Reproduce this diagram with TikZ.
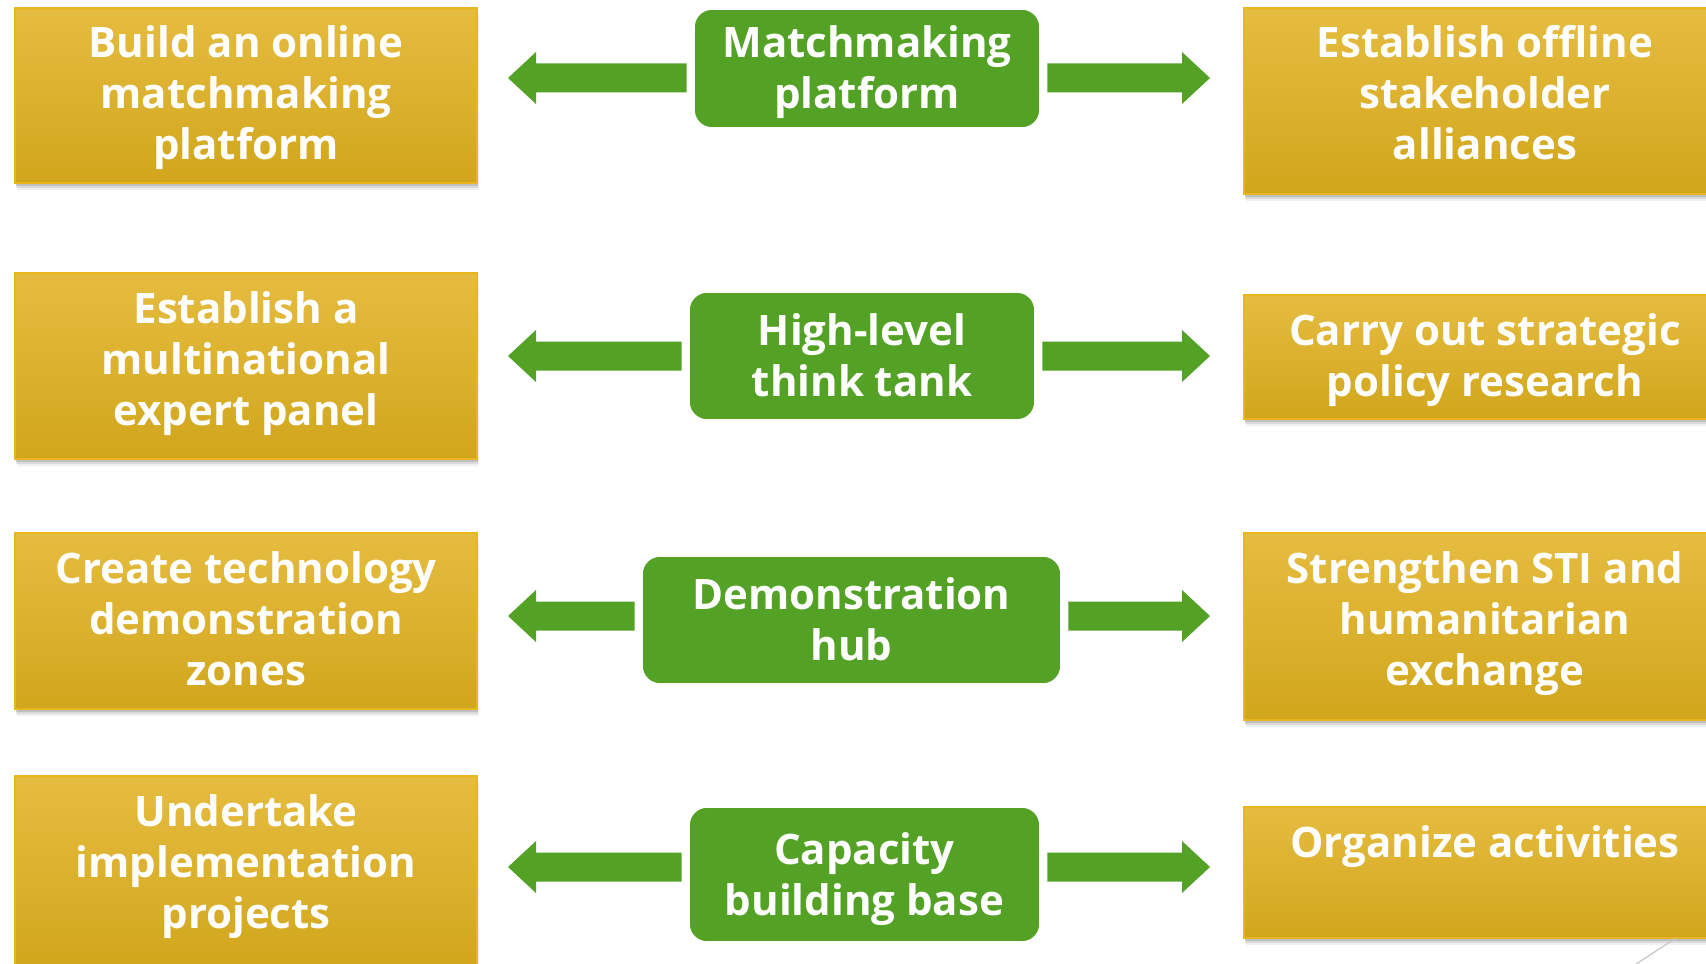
\documentclass[tikz,border=0pt]{standalone}
\usepackage{fontspec}
\setmainfont{Open Sans}
\usetikzlibrary{calc,shadows}
\definecolor{goldtop}{RGB}{230,188,64}
\definecolor{goldbot}{RGB}{209,166,28}
\definecolor{goldedge}{RGB}{233,182,32}
\definecolor{leaf}{RGB}{84,162,37}
% block arrow: #1 node it leaves, #2 node it points at, #3 direction (1 right, -1 left),
% #4 coordinate fixing its height, #5 gap left before the target
\newcommand\blockarrow[5]{%
  \fill[arrowfill] let \p1=(#1), \p2=(#2), \p3=(#4) in
    ({\x1+(#3)*3.25pt}, {\y3+7.25pt})
    -- ({\x2-(#3)*#5-(#3)*14pt}, {\y3+7.25pt})
    -- ({\x2-(#3)*#5-(#3)*14pt}, {\y3+13pt})
    -- ({\x2-(#3)*#5}, {\y3})
    -- ({\x2-(#3)*#5-(#3)*14pt}, {\y3-13pt})
    -- ({\x2-(#3)*#5-(#3)*14pt}, {\y3-7.25pt})
    -- ({\x1+(#3)*3.25pt}, {\y3-7.25pt}) -- cycle;}
\newcommand\stack[1]{\begin{tabular}[t]{@{}c@{}}#1\end{tabular}}
\begin{document}
\begin{tikzpicture}[x=0.5pt,y=-0.5pt,
  goldbox/.style={rectangle, inner sep=0pt, top color=goldtop, bottom color=goldbot,
    draw=goldedge, line width=1pt,
    general shadow={fill=black, opacity=.06, shadow xshift=.9pt, shadow yshift=-3.6pt},
    general shadow={fill=black, opacity=.09, shadow xshift=.6pt, shadow yshift=-2.6pt},
    general shadow={fill=black, opacity=.12, shadow xshift=.4pt, shadow yshift=-1.6pt}},
  greenbox/.style={rectangle, rounded corners=9pt, inner sep=0pt, fill=leaf,
    draw=white, line width=.8pt},
  boxtext/.style={text=white, inner sep=0pt, anchor=base,
    font=\fontsize{21pt}{25.5pt}\selectfont\bfseries},
  arrowfill/.style={fill=leaf}]
\useasboundingbox (0,0) rectangle (1706,963);
\clip (0,0) rectangle (1706,963);
\fill[white] (0,0) rectangle (1706,963);

% left column
\node[goldbox, minimum width=231pt, minimum height=87.5pt] (L1) at (246,95.5) {};
\node[goldbox, minimum width=231pt, minimum height=93pt]   (L2) at (246,366) {};
\node[goldbox, minimum width=231pt, minimum height=88pt]   (L3) at (246,621) {};
\node[goldbox, minimum width=231pt, minimum height=97pt]   (L4) at (246,873) {};

% right column
\node[goldbox, minimum width=241pt, minimum height=93pt]   (R1) at (1485,101) {};
\node[goldbox, minimum width=241pt, minimum height=62pt]   (R2) at (1485,357) {};
\node[goldbox, minimum width=241pt, minimum height=93.5pt] (R3) at (1485,626.5) {};
\node[goldbox, minimum width=241pt, minimum height=65.5pt] (R4) at (1485,872.5) {};

% centre column
\node[greenbox, minimum width=173pt,   minimum height=59.5pt] (G1) at (867,68.5) {};
\node[greenbox, minimum width=173pt,   minimum height=64pt]   (G2) at (862,356) {};
\node[greenbox, minimum width=209.5pt, minimum height=64pt]   (G3) at (851.5,620) {};
\node[greenbox, minimum width=175.5pt, minimum height=67.5pt] (G4) at (864.5,874.5) {};

% texts
\node[boxtext] (tL1) at ([yshift=-25.5pt]L1.north) {\stack{Build an online\\matchmaking\\platform}};
\node[boxtext] (tL2) at ([yshift=-25.5pt]L2.north) {\stack{Establish a\\multinational\\expert panel}};
\node[boxtext] (tL3) at ([yshift=-25.5pt]L3.north) {\stack{Create technology\\demonstration\\zones}};
\node[boxtext] (tL4) at ([yshift=-25.5pt]L4.north) {\stack{Undertake\\implementation\\projects}};

\node[boxtext] (tR1) at ([yshift=-25.5pt]R1.north) {\stack{Establish offline\\stakeholder\\alliances}};
\node[boxtext] (tR2) at ([yshift=-25.5pt]R2.north) {\stack{Carry out strategic\\policy research}};
\node[boxtext] (tR3) at ([yshift=-25.5pt]R3.north) {\stack{Strengthen STI and\\humanitarian\\exchange}};
\node[boxtext] (tR4) at ([yshift=-25.5pt]R4.north) {\stack{Organize activities}};

\node[boxtext] (tG1) at ([yshift=5.25pt]G1.center) {\stack{Matchmaking\\platform}};
\node[boxtext] (tG2) at ([yshift=5.25pt]G2.center) {\stack{High-level\\think tank}};
\node[boxtext] (tG3) at ([yshift=5.25pt]G3.center) {\stack{Demonstration\\hub}};
\node[boxtext] (tG4) at ([yshift=5.25pt]G4.center) {\stack{Capacity\\building base}};

% arrow heights
\coordinate (ay1) at (0,78);
\coordinate (ay2) at (0,356);
\coordinate (ay3) at (0,616);
\coordinate (ay4) at (0,867);

\blockarrow{G1.west}{L1.east}{-1}{ay1}{15pt}
\blockarrow{G1.east}{R1.west}{1}{ay1}{16.5pt}
\blockarrow{G2.west}{L2.east}{-1}{ay2}{15pt}
\blockarrow{G2.east}{R2.west}{1}{ay2}{16.5pt}
\blockarrow{G3.west}{L3.east}{-1}{ay3}{15pt}
\blockarrow{G3.east}{R3.west}{1}{ay3}{16.5pt}
\blockarrow{G4.west}{L4.east}{-1}{ay4}{15pt}
\blockarrow{G4.east}{R4.west}{1}{ay4}{16.5pt}

% thin stroke in the bottom corner
\draw[black!22, line width=.6pt] (1676,938) -- (1630,968);
\end{tikzpicture}
\end{document}
